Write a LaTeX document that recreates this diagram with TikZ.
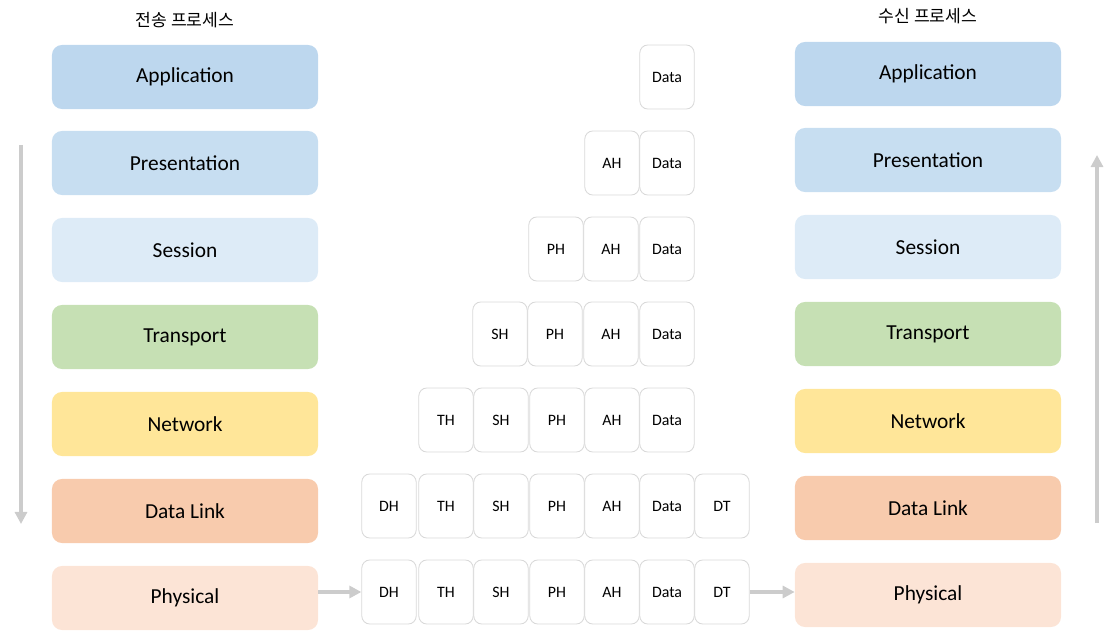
\documentclass[tikz,border=0pt]{standalone}
\usepackage{fontspec}
\setmainfont{Carlito}
\newfontfamily\krfont{Noto Sans CJK KR}
\usetikzlibrary{arrows.meta,positioning}

\definecolor{appblue}{HTML}{BDD7EE}
\definecolor{preblue}{HTML}{C7DEF1}
\definecolor{sesblue}{HTML}{DDEBF7}
\definecolor{trngreen}{HTML}{C6E0B4}
\definecolor{netyellow}{HTML}{FFE699}
\definecolor{dlorange}{HTML}{F8CBAD}
\definecolor{phyorange}{HTML}{FCE4D6}
\definecolor{flowgray}{HTML}{CCCCCC}
\definecolor{cellgray}{HTML}{D9D9D9}

\begin{document}
\begin{tikzpicture}[
    x=0.025cm, y=-0.025cm,
    layer/.style={rectangle, rounded corners=0.25cm, minimum width=6.65cm, minimum height=1.6cm, font=\fontsize{15.2}{18}\selectfont},
    cell/.style={draw=cellgray, line width=0.6pt, rectangle, rounded corners=0.2cm, fill=white, minimum width=1.36cm, minimum height=1.6cm, font=\fontsize{11.3}{13}\selectfont},
    flow/.style={-{Triangle[length=0.3cm, width=0.3cm]}, line width=2.2pt, draw=flowgray},
    title/.style={font=\krfont\fontsize{12.2}{14}\selectfont},
]

\useasboundingbox (0, 0) rectangle (1118, 636);

\node[title] (sendtitle) at (185, 20) {전송 프로세스};
\node[title] (recvtitle) at (928, 16) {수신 프로세스};

% Sending stack
\node[layer, fill=appblue] (sapp) at (185, 77) {Application};
\node[layer, fill=preblue] (spre) at (185, 163) {Presentation};
\node[layer, fill=sesblue] (sses) at (185, 250) {Session};
\node[layer, fill=trngreen] (strn) at (185, 337) {Transport};
\node[layer, fill=netyellow] (snet) at (185, 424) {Network};
\node[layer, fill=dlorange] (sdl) at (185, 511) {Data Link};
\node[layer, fill=phyorange] (sphy) at (185, 598) {Physical};

% Receiving stack
\node[layer, fill=appblue] (rapp) at (928, 74) {Application};
\node[layer, fill=preblue] (rpre) at (928, 160) {Presentation};
\node[layer, fill=sesblue] (rses) at (928, 247) {Session};
\node[layer, fill=trngreen] (rtrn) at (928, 334) {Transport};
\node[layer, fill=netyellow] (rnet) at (928, 421) {Network};
\node[layer, fill=dlorange] (rdl) at (928, 508) {Data Link};
\node[layer, fill=phyorange] (rphy) at (928, 595) {Physical};

% Encapsulation
\node[cell] (d1) at (667, 77) {Data};

\node[cell] (a2) at (612, 163) {AH};
\node[cell] (d2) at (667, 163) {Data};

\node[cell] (p3) at (556, 249) {PH};
\node[cell] (a3) at (611, 249) {AH};
\node[cell] (d3) at (667, 249) {Data};

\node[cell] (s4) at (500, 334) {SH};
\node[cell] (p4) at (555, 334) {PH};
\node[cell] (a4) at (611, 334) {AH};
\node[cell] (d4) at (667, 334) {Data};

\node[cell] (t5) at (446, 420) {TH};
\node[cell] (s5) at (501, 420) {SH};
\node[cell] (p5) at (557, 420) {PH};
\node[cell] (a5) at (612, 420) {AH};
\node[cell] (d5) at (667, 420) {Data};

\node[cell] (h6) at (389, 506) {DH};
\node[cell] (t6) at (446, 506) {TH};
\node[cell] (s6) at (501, 506) {SH};
\node[cell] (p6) at (557, 506) {PH};
\node[cell] (a6) at (612, 506) {AH};
\node[cell] (d6) at (667, 506) {Data};
\node[cell] (e6) at (722, 506) {DT};

\node[cell] (h7) at (389, 592) {DH};
\node[cell] (t7) at (446, 592) {TH};
\node[cell] (s7) at (501, 592) {SH};
\node[cell] (p7) at (557, 592) {PH};
\node[cell] (a7) at (612, 592) {AH};
\node[cell] (d7) at (667, 592) {Data};
\node[cell] (e7) at (722, 592) {DT};

% Flow
\coordinate (downtop) at (21, 145);
\coordinate (downbot) at (21, 524);
\coordinate (uptop) at (1097, 155);
\coordinate (upbot) at (1097, 523);

\draw[flow] (downtop) -- (downbot);
\draw[flow] (upbot) -- (uptop);
\draw[flow] (sphy.east |- h7.west) -- (h7.west);
\draw[flow] (e7.east) -- (rphy.west |- e7.east);

\end{tikzpicture}
\end{document}
